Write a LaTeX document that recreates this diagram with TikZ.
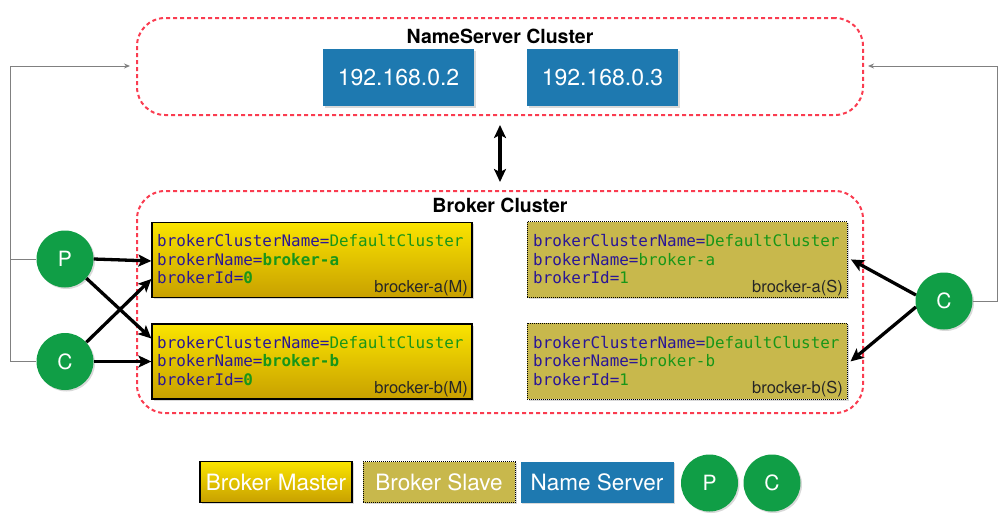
\documentclass[tikz,border=0pt]{standalone}
\usepackage{fontspec}
\setmainfont{TeX Gyre Heros}
\setmonofont{DejaVu Sans Mono}
\usetikzlibrary{arrows.meta,shadows}
\definecolor{nsblue}{RGB}{30,121,176}
\definecolor{pcgreen}{RGB}{16,158,70}
\definecolor{clred}{RGB}{250,60,80}
\definecolor{slaveol}{RGB}{200,184,76}
\definecolor{mtop}{RGB}{250,228,0}
\definecolor{mbot}{RGB}{200,160,0}
\definecolor{keyblue}{RGB}{42,22,150}
\definecolor{valgreen}{RGB}{24,150,24}
\definecolor{linegray}{RGB}{128,128,128}
\newcommand{\kv}[2]{\textcolor{keyblue}{#1=}\textcolor{valgreen}{#2}}
\newcommand{\kvb}[2]{\textcolor{keyblue}{#1=}\textcolor{valgreen}{\bfseries #2}}
\begin{document}
\begin{tikzpicture}[x=1pt,y=-1pt,
  cluster/.style={draw=clred, line width=2pt, dash pattern=on 4pt off 3pt, rounded corners=28pt},
  title/.style={font=\fontsize{19.5}{21}\selectfont\bfseries, text=black},
  nsbox/.style={fill=nsblue, minimum width=151pt, minimum height=57pt, text=white,
     font=\fontsize{23}{25}\selectfont, drop shadow={opacity=0.3,shadow xshift=1.5pt,shadow yshift=-1.5pt}},
  master/.style={draw=black, line width=1.3pt, top color=mtop, bottom color=mbot,
     minimum width=320pt, minimum height=75pt, drop shadow={opacity=0.3,shadow xshift=1.5pt,shadow yshift=-1.5pt}},
  slave/.style={draw=black, line width=0.8pt, dash pattern=on 1pt off 1pt, fill=slaveol,
     minimum width=320pt, minimum height=76pt, drop shadow={opacity=0.3,shadow xshift=1.5pt,shadow yshift=-1.5pt}},
  code/.style={anchor=base west, inner sep=0pt, font=\ttfamily\fontsize{15.9}{18}\selectfont},
  blabel/.style={anchor=base east, inner sep=0pt, font=\fontsize{16.5}{18}\selectfont, text=black!85},
  pc/.style={circle, fill=pcgreen, minimum size=57pt, inner sep=0pt, text=white,
     font=\fontsize{21}{22}\selectfont, drop shadow={opacity=0.3,shadow xshift=1.5pt,shadow yshift=-1.5pt}},
  big/.style={line width=3.3pt, -{Stealth[length=13pt,width=12pt,inset=3pt]}},
  thin/.style={draw=linegray, line width=1pt, -{Stealth[length=6pt,width=5pt]}},
  legtext/.style={text=white, font=\fontsize{22.5}{24}\selectfont, minimum height=41pt, inner sep=0pt}
]
\useasboundingbox (0,0) rectangle (1007,520);

% clusters
\node[cluster, minimum width=726pt, minimum height=97pt] (nsc) at (500,66.5) {};
\node[title] (nst) at (500,36) {NameServer Cluster};
\node[nsbox] (ns1) at (398.5,77.5) {192.168.0.2};
\node[nsbox] (ns2) at (602.5,77.5) {192.168.0.3};

\node[cluster, minimum width=726pt, minimum height=222pt] (bc) at (500,302) {};
\node[title] (bct) at (500,205) {Broker Cluster};

\coordinate (da) at (500,125);
\coordinate (db) at (500,182);
\draw[line width=3.3pt, {Stealth[length=13pt,width=12pt,inset=3pt]}-{Stealth[length=13pt,width=12pt,inset=3pt]}] (da) -- (db);

% brokers
\node[master] (ma) at (312,260) {};
\node[code] (ma1) at (157,246.5) {\kv{brokerClusterName}{DefaultCluster}};
\node[code] (ma2) at (157,265) {\kvb{brokerName}{broker-a}};
\node[code] (ma3) at (157,283.5) {\kvb{brokerId}{0}};
\node[blabel] (mal) at (468,292) {brocker-a(M)};

\node[master] (mb) at (312,361.5) {};
\node[code] (mb1) at (157,348) {\kv{brokerClusterName}{DefaultCluster}};
\node[code] (mb2) at (157,366.5) {\kvb{brokerName}{broker-b}};
\node[code] (mb3) at (157,385) {\kvb{brokerId}{0}};
\node[blabel] (mbl) at (468,393.5) {brocker-b(M)};

\node[slave] (sa) at (687,259.5) {};
\node[code] (sa1) at (533,246.5) {\kv{brokerClusterName}{DefaultCluster}};
\node[code] (sa2) at (533,265) {\kv{brokerName}{broker-a}};
\node[code] (sa3) at (533,283.5) {\kv{brokerId}{1}};
\node[blabel] (sal) at (843,292) {brocker-a(S)};

\node[slave] (sb) at (687,361) {};
\node[code] (sb1) at (533,348) {\kv{brokerClusterName}{DefaultCluster}};
\node[code] (sb2) at (533,366.5) {\kv{brokerName}{broker-b}};
\node[code] (sb3) at (533,385) {\kv{brokerId}{1}};
\node[blabel] (sbl) at (843,393.5) {brocker-b(S)};

% producers / consumers
\node[pc] (P) at (65,259) {P};
\node[pc] (C) at (65,361.5) {C};
\node[pc] (C2) at (944,301) {C};

\draw[big] (P.east) -- ([yshift=-1pt]ma.west);
\draw[big] (P.-42) -- ([yshift=23pt]mb.west);
\draw[big] (C.42) -- ([yshift=-19pt]ma.west);
\draw[big] (C.east) -- (mb.west);
\draw[big, shorten >=4pt] (C2.168) -- ([yshift=2pt]sa.east);
\draw[big, shorten >=4pt] (C2.192) -- ([yshift=-3pt]sb.east);

% gray lines
\coordinate (lt) at (10,66);
\coordinate (rt) at (997,66);
\draw[draw=linegray, line width=1pt] (C.west) -| (lt);
\draw[thin, shorten >=6pt] (P.west) -| (lt) -- (nsc.west |- lt);
\draw[thin, shorten >=4pt] (C2.east) -| (rt) -- (nsc.east |- rt);

% legend
\node[legtext, draw=black, line width=1.3pt, top color=mtop, bottom color=mbot, minimum width=152pt,
  drop shadow={opacity=0.3,shadow xshift=1.5pt,shadow yshift=-1.5pt}] (lm) at (276,482) {Broker Master};
\node[legtext, draw=black, line width=0.8pt, dash pattern=on 1pt off 1pt, fill=slaveol, minimum width=152pt,
  drop shadow={opacity=0.3,shadow xshift=1.5pt,shadow yshift=-1.5pt}] (ls) at (439,482) {Broker Slave};
\node[legtext, fill=nsblue, minimum width=153pt,
  drop shadow={opacity=0.3,shadow xshift=1.5pt,shadow yshift=-1.5pt}] (ln) at (597,482) {Name Server};
\node[pc] (lp) at (709.5,483) {P};
\node[pc] (lc) at (772,483) {C};
\end{tikzpicture}
\end{document}
